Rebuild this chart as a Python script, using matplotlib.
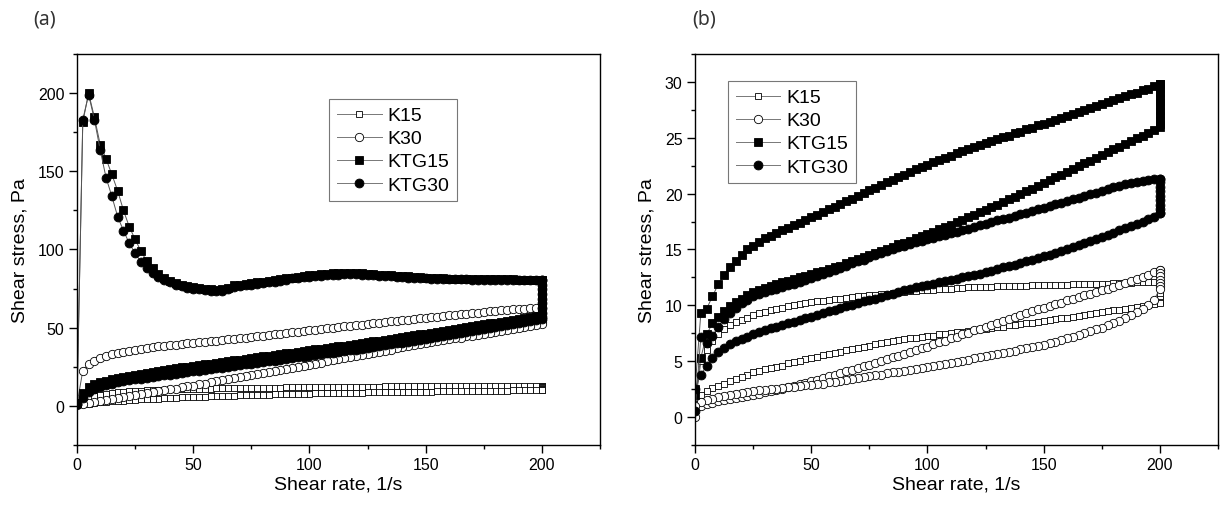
import matplotlib
matplotlib.use('Agg')
import matplotlib.pyplot as plt
from matplotlib.ticker import MultipleLocator

plt.rcParams['font.family'] = ['Liberation Sans', 'DejaVu Sans']

# shear rate steps of one ramp (up ramp; the down ramp walks back through them)
rate = [0, 2.5, 5, 7.5, 10, 12.5, 15, 17.5, 20, 22.5,
        25, 27.5, 30, 32.5, 35, 37.5, 40, 42.5, 45, 47.5,
        50, 52.5, 55, 57.5, 60, 62.5, 65, 67.5, 70, 72.5,
        75, 77.5, 80, 82.5, 85, 87.5, 90, 92.5, 95, 97.5,
        100, 102.5, 105, 107.5, 110, 112.5, 115, 117.5, 120, 122.5,
        125, 127.5, 130, 132.5, 135, 137.5, 140, 142.5, 145, 147.5,
        150, 152.5, 155, 157.5, 160, 162.5, 165, 167.5, 170, 172.5,
        175, 177.5, 180, 182.5, 185, 187.5, 190, 192.5, 195, 197.5,
        200]
hold_rate = 200

labels = ['K15', 'K30', 'KTG15', 'KTG30']

# ---- panel (a): up ramp, hold at 200 1/s, down ramp (down listed by rising rate)
a_k15_up = [0.5, 3.0, 5.0, 6.3, 7.2, 7.9, 8.4, 8.8, 9.1, 9.4,
            9.6, 9.8, 10.0, 10.1, 10.3, 10.4, 10.5, 10.6, 10.7, 10.8,
            10.9, 11.0, 11.0, 11.1, 11.2, 11.2, 11.3, 11.3, 11.4, 11.4,
            11.5, 11.5, 11.6, 11.6, 11.7, 11.7, 11.8, 11.8, 11.8, 11.9,
            11.9, 12.0, 12.0, 12.0, 12.1, 12.1, 12.1, 12.2, 12.2, 12.2,
            12.3, 12.3, 12.3, 12.4, 12.4, 12.4, 12.5, 12.5, 12.5, 12.5,
            12.6, 12.6, 12.6, 12.6, 12.7, 12.7, 12.7, 12.7, 12.8, 12.8,
            12.8, 12.8, 12.9, 12.9, 12.9, 12.9, 13.0, 13.0, 13.0, 13.0,
            13.0]
a_k15_hold = [13.0, 12.6, 12.2, 11.8, 11.4, 11.0, 10.6, 10.2]
a_k15_down = [0.4, 1.0, 1.5, 1.9, 2.3, 2.6, 2.9, 3.2, 3.4, 3.7,
              3.9, 4.1, 4.3, 4.5, 4.7, 4.9, 5.0, 5.2, 5.4, 5.5,
              5.7, 5.8, 6.0, 6.1, 6.2, 6.4, 6.5, 6.6, 6.7, 6.8,
              6.9, 7.0, 7.1, 7.2, 7.3, 7.4, 7.5, 7.6, 7.7, 7.8,
              7.9, 8.0, 8.0, 8.1, 8.2, 8.3, 8.3, 8.4, 8.5, 8.5,
              8.6, 8.7, 8.7, 8.8, 8.8, 8.9, 9.0, 9.0, 9.1, 9.1,
              9.2, 9.2, 9.3, 9.3, 9.4, 9.4, 9.5, 9.5, 9.6, 9.6,
              9.6, 9.7, 9.7, 9.8, 9.8, 9.9, 9.9, 9.9, 10.0, 10.0,
              10.1]

a_k30_up = [1.0, 22.5, 27.0, 29.0, 30.6, 31.8, 32.9, 33.9, 34.7, 35.4,
            36.0, 36.6, 37.1, 37.6, 38.0, 38.4, 38.8, 39.1, 39.5, 39.9,
            40.2, 40.6, 40.9, 41.3, 41.7, 42.1, 42.5, 42.9, 43.3, 43.7,
            44.1, 44.5, 44.9, 45.3, 45.8, 46.2, 46.6, 47.0, 47.5, 47.9,
            48.4, 48.8, 49.2, 49.6, 50.0, 50.4, 50.8, 51.2, 51.6, 52.0,
            52.4, 52.8, 53.2, 53.6, 54.0, 54.4, 54.8, 55.2, 55.6, 56.0,
            56.3, 56.6, 57.0, 57.4, 57.8, 58.1, 58.5, 58.9, 59.3, 59.7,
            60.1, 60.5, 60.9, 61.3, 61.6, 61.8, 62.0, 62.2, 62.3, 62.4,
            62.5]
a_k30_hold = [62.5, 61.0, 59.5, 58.0, 56.5, 55.0, 53.5]
a_k30_down = [0.8, 1.3, 2.0, 2.7, 3.3, 3.9, 4.5, 5.1, 5.7, 6.3,
              6.9, 7.5, 8.1, 8.7, 9.3, 9.9, 10.5, 11.1, 11.8, 12.4,
              13.0, 13.7, 14.3, 15.0, 15.7, 16.4, 17.0, 17.7, 18.3, 18.9,
              19.6, 20.2, 20.9, 21.5, 22.2, 22.8, 23.5, 24.2, 24.9, 25.6,
              26.3, 27.0, 27.7, 28.4, 29.1, 29.8, 30.5, 31.2, 31.9, 32.6,
              33.3, 33.9, 34.6, 35.3, 36.0, 36.7, 37.4, 38.0, 38.7, 39.4,
              40.0, 40.6, 41.3, 41.9, 42.5, 43.1, 43.7, 44.4, 45.0, 45.6,
              46.2, 46.8, 47.4, 48.0, 48.6, 49.2, 49.8, 50.4, 51.0, 51.6,
              52.5]

a_ktg15_up = [2.0, 181.5, 200.0, 184.5, 167.0, 158.0, 148.0, 137.5, 125.0, 114.5,
              106.5, 99.0, 92.5, 88.0, 84.5, 82.0, 80.0, 78.5, 77.5, 76.5,
              76.0, 75.5, 75.0, 74.5, 74.0, 74.5, 75.5, 77.0, 77.5, 78.0,
              78.5, 79.0, 79.5, 80.0, 80.5, 81.0, 81.5, 82.0, 82.5, 83.0,
              83.5, 84.0, 84.2, 84.5, 84.7, 84.8, 85.0, 85.0, 85.0, 84.8,
              84.5, 84.2, 84.0, 83.8, 83.5, 83.3, 83.0, 82.8, 82.5, 82.3,
              82.0, 81.8, 81.6, 81.5, 81.4, 81.3, 81.2, 81.2, 81.1, 81.1,
              81.0, 81.0, 81.0, 80.9, 80.9, 80.9, 80.8, 80.8, 80.8, 80.8,
              80.8]
a_ktg15_hold = [80.8, 78.0, 75.0, 72.0, 69.0, 66.0, 63.0, 60.5, 59.0]
a_ktg15_down = [2.0, 8.0, 12.0, 13.8, 15.0, 16.0, 17.0, 17.8, 18.6, 19.3,
                20.0, 20.6, 21.2, 21.8, 22.4, 23.0, 23.5, 24.0, 24.6, 25.1,
                25.6, 26.1, 26.6, 27.1, 27.6, 28.1, 28.6, 29.1, 29.6, 30.1,
                30.6, 31.1, 31.6, 32.1, 32.6, 33.1, 33.6, 34.1, 34.6, 35.1,
                35.6, 36.1, 36.6, 37.1, 37.6, 38.1, 38.6, 39.1, 39.6, 40.2,
                40.7, 41.2, 41.8, 42.3, 42.9, 43.4, 44.0, 44.5, 45.1, 45.7,
                46.2, 46.8, 47.4, 48.0, 48.5, 49.1, 49.7, 50.3, 50.9, 51.5,
                52.1, 52.7, 53.3, 53.9, 54.5, 55.1, 55.7, 56.3, 57.0, 57.6,
                58.3]

a_ktg30_up = [1.0, 183.0, 199.0, 183.0, 163.5, 146.0, 134.0, 121.0, 112.0, 104.0,
              97.5, 92.0, 88.0, 85.0, 82.5, 80.5, 79.0, 77.5, 76.5, 75.5,
              75.0, 74.5, 74.0, 73.5, 73.5, 73.5, 74.5, 76.0, 76.5, 77.0,
              77.5, 78.0, 78.5, 79.0, 79.5, 80.0, 80.8, 81.5, 82.0, 82.3,
              82.5, 83.0, 83.3, 83.6, 83.8, 84.0, 84.2, 84.2, 84.2, 84.0,
              83.8, 83.5, 83.3, 83.0, 82.8, 82.5, 82.3, 82.0, 81.8, 81.6,
              81.5, 81.3, 81.2, 81.1, 81.0, 81.0, 80.9, 80.9, 80.8, 80.8,
              80.7, 80.7, 80.6, 80.6, 80.6, 80.5, 80.5, 80.5, 80.5, 80.5,
              80.5]
a_ktg30_hold = [80.5, 77.5, 74.5, 71.5, 68.5, 65.5, 62.5, 59.5, 57.0]
a_ktg30_down = [1.0, 5.0, 9.0, 11.0, 12.3, 13.3, 14.2, 15.0, 15.7, 16.3,
                16.9, 17.5, 18.0, 18.5, 19.0, 19.5, 20.0, 20.5, 21.0, 21.5,
                22.0, 22.5, 23.0, 23.5, 24.0, 24.5, 25.0, 25.5, 26.0, 26.5,
                27.0, 27.5, 28.0, 28.5, 29.0, 29.5, 30.0, 30.5, 31.0, 31.5,
                32.0, 32.5, 33.0, 33.5, 34.0, 34.5, 35.0, 35.5, 36.0, 36.6,
                37.1, 37.7, 38.2, 38.8, 39.4, 39.9, 40.5, 41.1, 41.7, 42.3,
                42.9, 43.5, 44.1, 44.7, 45.3, 45.9, 46.5, 47.1, 47.7, 48.4,
                49.0, 49.6, 50.3, 50.9, 51.6, 52.2, 52.9, 53.5, 54.2, 54.9,
                55.6]

# ---- panel (b)
b_k15_up = [1.0, 5.0, 6.0, 6.8, 7.4, 7.9, 8.2, 8.5, 8.7, 8.9,
            9.1, 9.3, 9.4, 9.6, 9.7, 9.8, 9.9, 10.0, 10.1, 10.2,
            10.3, 10.35, 10.4, 10.5, 10.55, 10.6, 10.7, 10.75, 10.8, 10.85,
            10.9, 10.95, 11.0, 11.05, 11.1, 11.15, 11.2, 11.25, 11.3, 11.35,
            11.4, 11.4, 11.45, 11.5, 11.5, 11.55, 11.55, 11.6, 11.6, 11.6,
            11.65, 11.65, 11.7, 11.7, 11.7, 11.75, 11.75, 11.75, 11.8, 11.8,
            11.8, 11.8, 11.85, 11.85, 11.85, 11.9, 11.9, 11.9, 11.9, 11.95,
            11.95, 11.95, 12.0, 12.0, 12.0, 12.0, 12.05, 12.05, 12.05, 12.05,
            12.1]
b_k15_hold = [12.1, 11.8, 11.5, 11.2, 10.9, 10.6, 10.3]
b_k15_down = [1.2, 2.0, 2.3, 2.6, 2.8, 3.0, 3.2, 3.4, 3.6, 3.8,
              4.0, 4.1, 4.3, 4.4, 4.5, 4.6, 4.8, 4.9, 5.0, 5.2,
              5.3, 5.4, 5.55, 5.65, 5.75, 5.85, 6.0, 6.1, 6.2, 6.3,
              6.4, 6.5, 6.6, 6.7, 6.8, 6.9, 7.0, 7.05, 7.1, 7.2,
              7.25, 7.3, 7.4, 7.45, 7.5, 7.6, 7.65, 7.7, 7.8, 7.85,
              7.9, 8.0, 8.05, 8.1, 8.2, 8.25, 8.3, 8.4, 8.45, 8.5,
              8.6, 8.7, 8.75, 8.85, 8.9, 9.0, 9.05, 9.15, 9.2, 9.3,
              9.4, 9.45, 9.55, 9.6, 9.7, 9.8, 9.85, 9.95, 10.05, 10.15,
              10.2]

b_k30_up = [0.0, 1.0, 1.15, 1.3, 1.4, 1.5, 1.6, 1.7, 1.8, 1.9,
            2.0, 2.1, 2.25, 2.35, 2.45, 2.55, 2.7, 2.8, 2.95, 3.05,
            3.2, 3.35, 3.5, 3.65, 3.8, 3.95, 4.1, 4.25, 4.4, 4.55,
            4.7, 4.85, 5.0, 5.2, 5.35, 5.5, 5.65, 5.8, 6.0, 6.15,
            6.3, 6.5, 6.7, 6.85, 7.05, 7.2, 7.4, 7.55, 7.75, 7.9,
            8.1, 8.25, 8.45, 8.6, 8.8, 8.95, 9.15, 9.3, 9.5, 9.65,
            9.8, 9.95, 10.1, 10.25, 10.45, 10.6, 10.75, 10.9, 11.05, 11.2,
            11.35, 11.5, 11.65, 11.8, 12.0, 12.15, 12.35, 12.55, 12.75, 12.95,
            13.15]
b_k30_hold = [13.15, 12.9, 12.6, 12.3, 12.0, 11.7]
b_k30_down = [1.0, 1.35, 1.5, 1.65, 1.8, 1.9, 2.0, 2.1, 2.15, 2.25,
              2.3, 2.4, 2.45, 2.5, 2.55, 2.6, 2.65, 2.7, 2.8, 2.85,
              2.9, 2.95, 3.0, 3.1, 3.15, 3.25, 3.3, 3.4, 3.5, 3.55,
              3.65, 3.75, 3.8, 3.9, 4.0, 4.05, 4.15, 4.25, 4.3, 4.4,
              4.5, 4.55, 4.65, 4.75, 4.85, 4.95, 5.05, 5.15, 5.25, 5.35,
              5.45, 5.55, 5.65, 5.75, 5.85, 5.95, 6.05, 6.15, 6.25, 6.35,
              6.45, 6.6, 6.75, 6.9, 7.05, 7.2, 7.35, 7.5, 7.7, 7.85,
              8.0, 8.2, 8.4, 8.6, 8.85, 9.1, 9.4, 9.7, 10.05, 10.5,
              11.5]

b_ktg15_up = [2.5, 9.3, 9.7, 10.8, 11.9, 12.7, 13.4, 13.95, 14.5, 15.0,
              15.35, 15.7, 16.0, 16.25, 16.5, 16.75, 16.95, 17.2, 17.4, 17.65,
              17.9, 18.1, 18.35, 18.6, 18.8, 19.05, 19.3, 19.55, 19.8, 20.05,
              20.3, 20.5, 20.75, 21.0, 21.25, 21.5, 21.7, 21.95, 22.2, 22.4,
              22.6, 22.8, 23.0, 23.2, 23.4, 23.6, 23.8, 24.0, 24.15, 24.35,
              24.5, 24.7, 24.85, 25.05, 25.2, 25.4, 25.55, 25.75, 25.9, 26.1,
              26.25, 26.45, 26.6, 26.8, 26.95, 27.15, 27.3, 27.5, 27.65, 27.85,
              28.0, 28.2, 28.35, 28.55, 28.7, 28.9, 29.05, 29.25, 29.4, 29.6,
              29.8]
b_ktg15_hold = [29.8, 29.4, 29.0, 28.6, 28.2, 27.8, 27.4, 27.0, 26.6, 26.2]
b_ktg15_down = [2.0, 5.3, 7.4, 8.4, 9.0, 9.5, 9.9, 10.3, 10.6, 10.9,
                11.15, 11.35, 11.55, 11.75, 11.9, 12.05, 12.2, 12.35, 12.5, 12.65,
                12.8, 12.95, 13.1, 13.25, 13.4, 13.55, 13.75, 13.95, 14.15, 14.35,
                14.55, 14.7, 14.9, 15.05, 15.25, 15.45, 15.6, 15.8, 16.0, 16.2,
                16.4, 16.6, 16.8, 17.0, 17.2, 17.45, 17.65, 17.9, 18.1, 18.35,
                18.55, 18.8, 19.0, 19.25, 19.5, 19.7, 19.95, 20.2, 20.45, 20.7,
                20.95, 21.2, 21.45, 21.7, 21.95, 22.2, 22.45, 22.7, 22.95, 23.2,
                23.45, 23.7, 23.95, 24.2, 24.45, 24.7, 24.95, 25.2, 25.45, 25.7,
                26.0]

b_ktg30_up = [0.5, 7.2, 6.6, 7.3, 8.1, 8.8, 9.3, 9.8, 10.2, 10.5,
              10.8, 11.0, 11.2, 11.35, 11.5, 11.65, 11.8, 11.95, 12.1, 12.25,
              12.45, 12.6, 12.8, 12.95, 13.15, 13.35, 13.55, 13.75, 13.95, 14.1,
              14.3, 14.5, 14.7, 14.85, 15.05, 15.2, 15.35, 15.5, 15.65, 15.8,
              15.9, 16.05, 16.2, 16.3, 16.45, 16.6, 16.75, 16.85, 17.0, 17.15,
              17.3, 17.45, 17.6, 17.75, 17.85, 18.0, 18.15, 18.3, 18.45, 18.6,
              18.75, 18.9, 19.05, 19.2, 19.35, 19.5, 19.65, 19.8, 19.95, 20.1,
              20.25, 20.4, 20.55, 20.7, 20.85, 20.95, 21.05, 21.15, 21.25, 21.3,
              21.35]
b_ktg30_hold = [21.35, 21.0, 20.6, 20.2, 19.8, 19.4, 19.0, 18.6, 18.3]
b_ktg30_down = [2.5, 3.8, 4.6, 5.3, 5.8, 6.2, 6.5, 6.8, 7.0, 7.2,
                7.4, 7.6, 7.8, 7.95, 8.1, 8.25, 8.4, 8.55, 8.7, 8.85,
                9.0, 9.15, 9.3, 9.45, 9.6, 9.75, 9.9, 10.05, 10.2, 10.35,
                10.45, 10.6, 10.75, 10.9, 11.05, 11.2, 11.35, 11.5, 11.6, 11.75,
                11.85, 11.95, 12.05, 12.15, 12.25, 12.35, 12.5, 12.6, 12.75, 12.85,
                13.0, 13.1, 13.25, 13.4, 13.5, 13.65, 13.8, 13.95, 14.1, 14.25,
                14.4, 14.55, 14.7, 14.9, 15.05, 15.2, 15.4, 15.55, 15.75, 15.9,
                16.1, 16.3, 16.5, 16.7, 16.9, 17.1, 17.3, 17.5, 17.75, 17.95,
                18.25]


def loop(up, hold, down):
    # up ramp -> hold at max rate -> down ramp back to zero
    x = rate + [hold_rate] * len(hold) + rate[::-1]
    y = up + hold + down[::-1]
    return x, y


styles = [dict(marker='s', ms=4.6, mfc='white'),
          dict(marker='o', ms=6.0, mfc='white'),
          dict(marker='s', ms=5.8, mfc='black'),
          dict(marker='o', ms=6.4, mfc='black')]


def draw(ax, series, ylim, ymajor, leg_anchor):
    for lab, (up, hold, down), st in zip(labels, series, styles):
        x, y = loop(up, hold, down)
        ax.plot(x, y, color='#555555', lw=0.7, marker=st['marker'], ms=st['ms'],
                mfc=st['mfc'], mec='black', mew=0.6, label=lab)
    ax.set_xlim(0, 225)
    ax.set_ylim(*ylim)
    ax.xaxis.set_major_locator(MultipleLocator(50))
    ax.xaxis.set_minor_locator(MultipleLocator(25))
    ax.yaxis.set_major_locator(MultipleLocator(ymajor))
    ax.yaxis.set_minor_locator(MultipleLocator(ymajor / 2))
    ax.set_xticks([0, 50, 100, 150, 200])
    ax.tick_params(which='major', direction='out', length=6, width=1,
                   labelsize=11.5, pad=3, top=False, right=False)
    ax.tick_params(which='minor', direction='out', length=3.2, width=1,
                   top=False, right=False)
    for sp in ax.spines.values():
        sp.set_linewidth(1.0)
    ax.set_xlabel('Shear rate, 1/s', fontsize=14, labelpad=2)
    ax.set_ylabel('Shear stress, Pa', fontsize=14, labelpad=7)
    leg = ax.legend(loc='upper left', bbox_to_anchor=leg_anchor, borderaxespad=0,
                    fontsize=14, fancybox=False, edgecolor='#555555',
                    handlelength=2.3, handletextpad=0.3, labelspacing=0.28,
                    borderpad=0.4)
    leg.get_frame().set_linewidth(0.8)
    for ln in leg.get_lines():
        ln.set_color('#777777')
        ln.set_markeredgecolor('black')


fig = plt.figure(figsize=(12.2, 5.1), dpi=100)
ax_a = fig.add_axes([0.0631, 0.1255, 0.4287, 0.7667])
ax_b = fig.add_axes([0.5697, 0.1255, 0.4287, 0.7667])

draw(ax_a, [(a_k15_up, a_k15_hold, a_k15_down),
            (a_k30_up, a_k30_hold, a_k30_down),
            (a_ktg15_up, a_ktg15_hold, a_ktg15_down),
            (a_ktg30_up, a_ktg30_hold, a_ktg30_down)],
     (-25, 225), 50, (0.482, 0.885))
draw(ax_b, [(b_k15_up, b_k15_hold, b_k15_down),
            (b_k30_up, b_k30_hold, b_k30_down),
            (b_ktg15_up, b_ktg15_hold, b_ktg15_down),
            (b_ktg30_up, b_ktg30_hold, b_ktg30_down)],
     (-2.5, 32.5), 5, (0.063, 0.931))

fig.text(45 / 1220, 1 - 20 / 510, '(a)', ha='center', va='center',
         family='Noto Sans', fontsize=14, color='#333333')
fig.text(704 / 1220, 1 - 19 / 510, '(b)', ha='center', va='center',
         family='Noto Sans', fontsize=14, color='#333333')

fig.savefig('out.png', dpi=100)
